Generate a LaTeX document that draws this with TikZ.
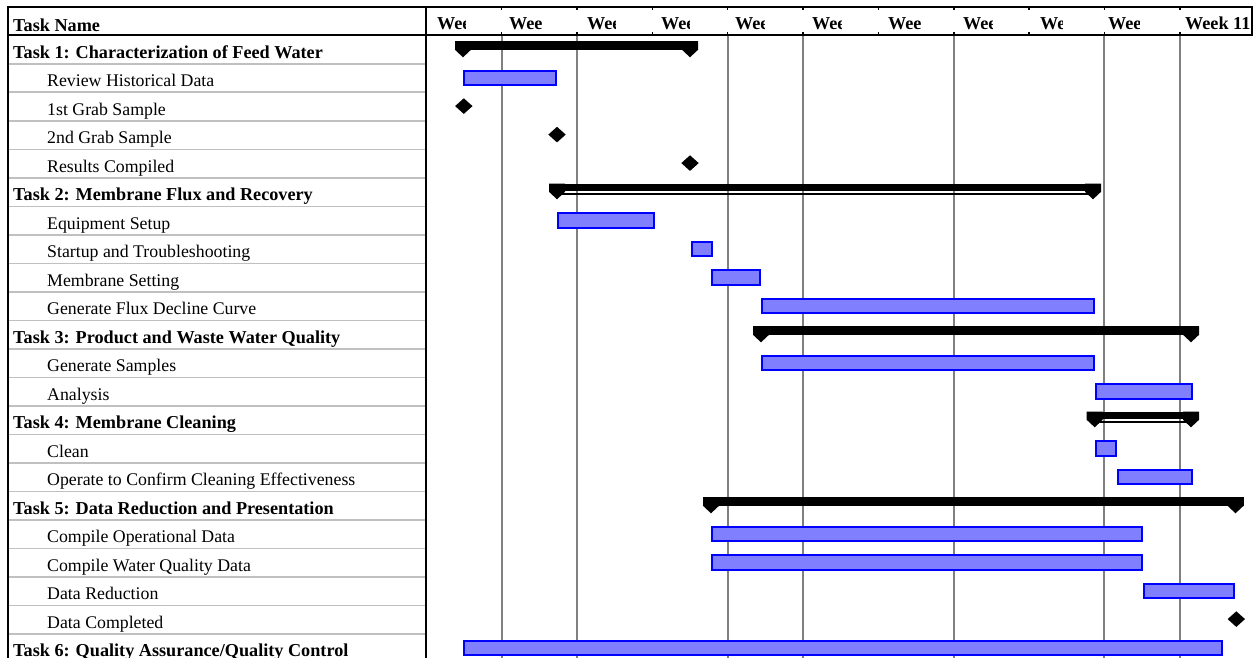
\documentclass[tikz,border=0pt]{standalone}
\usepackage{fontspec}
\setmainfont{Liberation Serif}
\definecolor{barfill}{HTML}{8080FF}
\definecolor{barline}{HTML}{0000FF}
\definecolor{gridgray}{HTML}{808080}
\definecolor{rowgray}{HTML}{C0C0C0}
\begin{document}
\begin{tikzpicture}[x=1pt,y=-1pt,
  lbl/.style={anchor=base west, inner sep=0pt, font=\fontsize{17.8}{20}\selectfont},
  tasklbl/.style={anchor=base west, inner sep=0pt, font=\fontsize{18.2}{20}\selectfont\bfseries},
  taskbar/.style={draw=barline, fill=barfill, line width=2pt},
  summfill/.style={fill=black},
  mile/.style={fill=black},
  gridline/.style={draw=gridgray, line width=2pt},
  rowline/.style={draw=rowgray, line width=1.6pt},
  frameline/.style={draw=black, line width=2pt},
  tick/.style={draw=black, line width=1.5pt}]

\fill[white] (0,0) rectangle (1255,658);
\useasboundingbox (0,0) rectangle (1255,658);

% row separators in the name column
\foreach \k in {1,...,21} {
  \pgfmathsetmacro\yy{35.3+\k*28.5}
  \draw[rowline] (8,\yy) -- (426,\yy);
}

% vertical grid lines in the chart
\foreach \k in {2,3,5,6,8,10,11} {
  \pgfmathsetmacro\xx{426.3+75.35*(\k-1)}
  \draw[gridline] (\xx,35.5) -- (\xx,658);
}

% task bars
\foreach \r/\a/\b in {2/462.5/557.3, 7/556.7/655.3, 8/690.7/713.3, 9/710.7/761.3,
   10/761/1095, 12/761/1095, 13/1094.7/1193.3, 15/1094.7/1117.3, 16/1116.7/1193.3,
   18/710.7/1143.3, 19/710.7/1143.3, 20/1142.7/1235, 22/462.6/1223.3} {
  \pgfmathsetmacro\tt{35.3+(\r-1)*28.5}
  \draw[taskbar] ({\a+1},{\tt+7}) rectangle ({\b-1},{\tt+21.3});
}

% summary bars without baseline
\foreach \r/\a/\b in {1/463/690, 11/761/1191, 17/711/1235.5} {
  \pgfmathsetmacro\tt{35.3+(\r-1)*28.5}
  \fill[summfill] ({\a-8},{\tt+6}) rectangle ({\b+8},{\tt+15});
  \fill[summfill] ({\a-8},{\tt+6}) -- ({\a+8},{\tt+6}) -- ({\a+8},{\tt+14.5}) -- (\a,{\tt+22}) -- ({\a-8},{\tt+14.5}) -- cycle;
  \fill[summfill] ({\b-8},{\tt+6}) -- ({\b+8},{\tt+6}) -- ({\b+8},{\tt+14.5}) -- (\b,{\tt+22}) -- ({\b-8},{\tt+14.5}) -- cycle;
}
% summary bars with baseline
\foreach \r/\a/\b in {6/557/1093, 14/1094.7/1191} {
  \pgfmathsetmacro\tt{35.3+(\r-1)*28.5}
  \fill[summfill] ({\a-8},{\tt+5.7}) rectangle ({\b+8},{\tt+13.5});
  \draw[black, line width=1.8pt] (\a,{\tt+15.9}) -- (\b,{\tt+15.9});
  \fill[summfill] ({\a-8},{\tt+5.7}) -- ({\a+8},{\tt+5.7}) -- ({\a+8},{\tt+14}) -- (\a,{\tt+21.5}) -- ({\a-8},{\tt+14}) -- cycle;
  \fill[summfill] ({\b-8},{\tt+5.7}) -- ({\b+8},{\tt+5.7}) -- ({\b+8},{\tt+14}) -- (\b,{\tt+21.5}) -- ({\b-8},{\tt+14}) -- cycle;
}

% milestones
\foreach \r/\a in {3/463.8, 4/557, 5/690, 21/1236.3} {
  \pgfmathsetmacro\tt{35.3+(\r-1)*28.5+13.8}
  \fill[mile] ({\a-8.7},\tt) -- (\a,{\tt-7.8}) -- ({\a+8.7},\tt) -- (\a,{\tt+7.8}) -- cycle;
}

% frame
\draw[frameline] (7,7.5) -- (1252,7.5);
\draw[frameline] (7,35.5) -- (1252,35.5);
\draw[frameline] (7.5,6.5) -- (7.5,658);
\draw[frameline] (426.3,6.5) -- (426.3,658);
\draw[frameline] (1252,6.5) -- (1252,36.5);
\foreach \k in {2,...,11} {
  \pgfmathsetmacro\xx{426.3+75.35*(\k-1)}
  \draw[tick] (\xx,7.5) -- (\xx,10.5);
  \draw[tick] (\xx,32.5) -- (\xx,35.5);
}

% header labels
\node[tasklbl] (hname) at (13,31.5) {Task Name};
\foreach \k/\s/\e in {1/437/465, 2/509/542, 3/587/615, 4/661/689, 5/735/764,
   6/812/841, 7/888/921, 8/963/992, 9/1040/1062, 10/1108/1139} {
  \begin{scope}
    \clip ({\s-2},9) rectangle (\e,34);
    \node[tasklbl] (wk\k) at (\s,29.5) {Week \k};
  \end{scope}
}
\node[tasklbl] (wk11) at (1185,29.5) {Week 11};

% row labels
\foreach \r/\txt in {2/{Review Historical Data}, 3/{1st Grab Sample}, 4/{2nd Grab Sample},
   5/{Results Compiled}, 7/{Equipment Setup}, 8/{Startup and Troubleshooting},
   9/{Membrane Setting}, 10/{Generate Flux Decline Curve}, 12/{Generate Samples},
   13/{Analysis}, 15/{Clean}, 16/{Operate to Confirm Cleaning Effectiveness},
   18/{Compile Operational Data}, 19/{Compile Water Quality Data}, 20/{Data Reduction},
   21/{Data Completed}} {
  \pgfmathsetmacro\yy{58.3+(\r-1)*28.5}
  \node[lbl] (row\r) at (47,\yy) {\txt};
}
\foreach \r/\txt in {1/{Task 1: Characterization of Feed Water},
   6/{Task 2: Membrane Flux and Recovery},
   11/{Task 3: Product and Waste Water Quality},
   14/{Task 4: Membrane Cleaning},
   17/{Task 5: Data Reduction and Presentation},
   22/{Task 6: Quality Assurance/Quality Control}} {
  \pgfmathsetmacro\yy{58.3+(\r-1)*28.5}
  \node[tasklbl] (row\r) at (13,\yy) {\txt};
}
\end{tikzpicture}
\end{document}
